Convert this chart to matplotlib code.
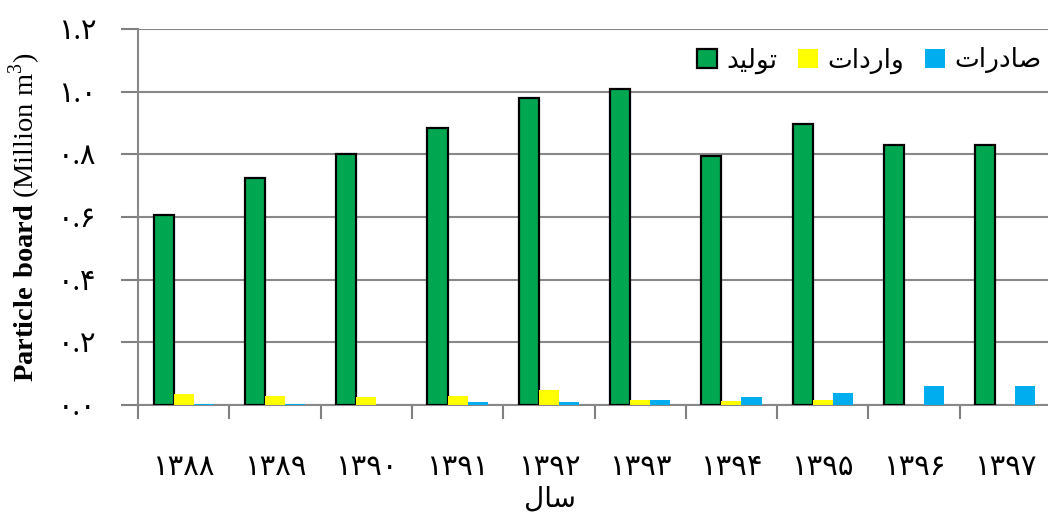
import numpy as np
import matplotlib
matplotlib.use('Agg')
import matplotlib.pyplot as plt

# داده ها (سال های شمسی)
years = ['۱۳۸۸', '۱۳۸۹', '۱۳۹۰', '۱۳۹۱', '۱۳۹۲', '۱۳۹۳', '۱۳۹۴', '۱۳۹۵', '۱۳۹۶', '۱۳۹۷']
production = [0.606, 0.724, 0.800, 0.884, 0.980, 1.008, 0.794, 0.896, 0.829, 0.829]
imports = [0.034, 0.030, 0.026, 0.030, 0.047, 0.017, 0.013, 0.017, 0.0, 0.0]
exports = [0.004, 0.004, 0.0, 0.010, 0.010, 0.017, 0.026, 0.038, 0.062, 0.062]
y_ticks = [0.0, 0.2, 0.4, 0.6, 0.8, 1.0, 1.2]
y_tick_labels = ['۰.۰', '۰.۲', '۰.۴', '۰.۶', '۰.۸', '۱.۰', '۱.۲']

# متن فارسی به صورت شکل های نمایشی و ترتیب دیداری (matplotlib راست به چپ نمی کند)
lbl_prod = '\uFEAA\uFBFF\uFEDF\uFEEE\uFE97'    # تولید
lbl_imp = '\uFE95\uFE8D\uFEA9\uFEAD\uFE8D\uFEED'  # واردات
lbl_exp = '\uFE95\uFE8D\uFEAD\uFEA9\uFE8E\uFEBB'  # صادرات
lbl_year = '\uFEDD\uFE8E\uFEB3'                 # سال

fam = ['Liberation Serif', 'DejaVu Sans']
plt.rcParams['font.family'] = fam
plt.rcParams['mathtext.fontset'] = 'custom'
plt.rcParams['mathtext.rm'] = 'Liberation Serif'
plt.rcParams['mathtext.bf'] = 'Liberation Serif:bold'

fig = plt.figure(figsize=(10.48, 5.15), dpi=100)
ax = fig.add_axes([138 / 1048, 1 - 405 / 515, 913 / 1048, 376 / 515])

x = np.arange(len(years))
w = 0.22
ax.bar(x - w, production, w, color='#00A650', edgecolor='black', linewidth=1.6, label=lbl_prod, zorder=3)
ax.bar(x, imports, w, color='#FFFF00', label=lbl_imp, zorder=3)
ax.bar(x + w, exports, w, color='#00AEEF', label=lbl_exp, zorder=3)

ax.set_xlim(-0.5, len(years) - 0.5)
ax.set_ylim(0, 1.2)
ax.set_yticks(y_ticks)
ax.set_yticklabels(y_tick_labels, fontsize=21)
ax.set_xticks(x)
ax.set_xticklabels(years, fontsize=21)
ax.set_xticks(np.arange(len(years) + 1) - 0.5, minor=True)
ax.tick_params(axis='x', which='major', length=0, pad=36)
ax.tick_params(axis='x', which='minor', length=10, width=1.5, color='#808080')
ax.tick_params(axis='y', length=12, width=1.5, color='#808080', pad=18)

ax.grid(axis='y', color='#888888', linewidth=1.5, zorder=0)
for s in ['top', 'right']:
    ax.spines[s].set_visible(False)
ax.spines['left'].set_color('#888888')
ax.spines['left'].set_linewidth(1.5)
ax.spines['bottom'].set_color('#888888')
ax.spines['bottom'].set_linewidth(1.5)

ax.set_ylabel(r'$\mathbf{Particle\ board}$ (Million m$^3$)', fontsize=20.5)
ax.yaxis.set_label_coords(-(138 - 43) / 913, 0.50)
fig.text(550 / 1048, 1 - 500 / 515, lbl_year, fontsize=20, ha='center', va='center')

leg = ax.legend(loc='upper right', bbox_to_anchor=(0.995, 0.965), ncol=3, frameon=True,
                fontsize=19, handlelength=0.75, handleheight=0.75, handletextpad=0.35,
                columnspacing=0.8, borderpad=0.2, borderaxespad=0)
leg.get_frame().set_edgecolor('none')
leg.get_frame().set_facecolor('white')
leg.get_frame().set_alpha(1)

fig.savefig('out.png', dpi=100)
